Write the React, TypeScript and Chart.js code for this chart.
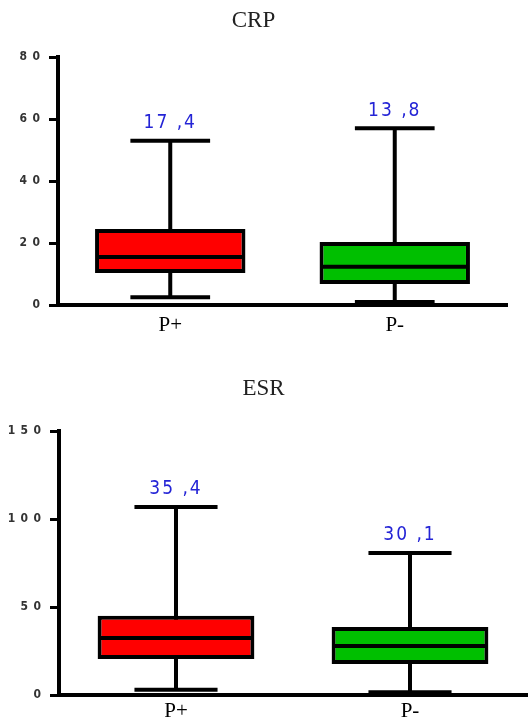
import React, { useEffect, useRef } from "react";
import { Chart, registerables } from "chart.js";

Chart.register(...registerables);

// ---------- data ----------
const categories = ["P+", "P-"];
const boxColors = ["#ff0000", "#00bf00"];

const crpMin = [2.5, 1];
const crpQ1 = [10.3, 6.8];
const crpMedian = [15.5, 12.3];
const crpQ3 = [24.5, 20.3];
const crpMax = [53, 57];
const crpMeanLabels = ["17 ,4", "13 ,8"];
const crpTicks = [0, 20, 40, 60, 80];

const esrMin = [3, 1.5];
const esrQ1 = [20.5, 17.6];
const esrMedian = [32.4, 27.8];
const esrQ3 = [45, 38.6];
const esrMax = [106.8, 80.7];
const esrMeanLabels = ["35 ,4", "30 ,1"];
const esrTicks = [0, 50, 100, 150];

const NARROW = "'Liberation Sans Narrow', 'DejaVu Sans Condensed', 'Liberation Sans', sans-serif";
const SERIF = "'Liberation Serif', 'DejaVu Serif', serif";

type BoxProps = {
  title: string;
  mins: number[];
  q1: number[];
  medians: number[];
  q3: number[];
  maxs: number[];
  meanLabels: string[];
  ticks: number[];
  height: number;
  axisWidth: number;
  xAxisHeight: number;
  padRight: number;
  titlePadTop: number;
  titlePadBottom: number;
  xLabelPad: number;
};

function makeBoxPlugin(p: BoxProps) {
  return {
    id: "boxExtras",
    beforeDatasetsDraw(chart: any) {
      const ctx = chart.ctx;
      const xs = chart.scales.x;
      const ys = chart.scales.y;
      const meta = chart.getDatasetMeta(0);
      ctx.save();
      ctx.strokeStyle = "#000";
      ctx.lineCap = "butt";
      meta.data.forEach((bar: any, i: number) => {
        const cx = xs.getPixelForValue(i);
        const capW = bar.width * 0.53;
        const yMin = ys.getPixelForValue(p.mins[i]);
        const yMax = ys.getPixelForValue(p.maxs[i]);
        ctx.lineWidth = 4;
        ctx.beginPath();
        ctx.moveTo(cx, yMax);
        ctx.lineTo(cx, yMin);
        ctx.stroke();
        ctx.beginPath();
        ctx.moveTo(cx - capW / 2, yMax);
        ctx.lineTo(cx + capW / 2, yMax);
        ctx.moveTo(cx - capW / 2, yMin);
        ctx.lineTo(cx + capW / 2, yMin);
        ctx.stroke();
      });
      ctx.restore();
    },
    afterDatasetsDraw(chart: any) {
      const ctx = chart.ctx;
      const xs = chart.scales.x;
      const ys = chart.scales.y;
      const meta = chart.getDatasetMeta(0);
      ctx.save();
      meta.data.forEach((bar: any, i: number) => {
        const cx = xs.getPixelForValue(i);
        const half = bar.width / 2;
        const yMed = ys.getPixelForValue(p.medians[i]);
        ctx.strokeStyle = "#000";
        ctx.lineWidth = 4;
        ctx.beginPath();
        ctx.moveTo(cx - half + 2, yMed);
        ctx.lineTo(cx + half - 2, yMed);
        ctx.stroke();
        const yMax = ys.getPixelForValue(p.maxs[i]);
        ctx.fillStyle = "#2424d6";
        ctx.font = `19px ${NARROW}`;
        try {
          (ctx as any).letterSpacing = "2px";
        } catch (e) {}
        ctx.textAlign = "center";
        ctx.textBaseline = "bottom";
        ctx.fillText(p.meanLabels[i], cx, yMax - 8);
      });
      ctx.restore();
    },
  };
}

function BoxChart(p: BoxProps) {
  const ref = useRef<HTMLCanvasElement>(null);
  useEffect(() => {
    const canvas = ref.current;
    if (!canvas) return;
    const chart = new Chart(canvas, {
      type: "bar",
      data: {
        labels: categories,
        datasets: [
          {
            data: categories.map((_, i) => [p.q1[i], p.q3[i]]) as any,
            backgroundColor: boxColors,
            borderColor: "#000",
            borderWidth: 4,
            borderSkipped: false,
            barPercentage: 0.67,
            categoryPercentage: 1,
          },
        ],
      },
      options: {
        responsive: false,
        animation: false,
        devicePixelRatio: 1,
        layout: { padding: { left: 0, right: p.padRight, top: 0, bottom: 0 } },
        plugins: {
          legend: { display: false },
          tooltip: { enabled: false },
          title: {
            display: true,
            text: p.title,
            color: "#222",
            font: { family: SERIF, size: 23, weight: "normal" },
            padding: { top: p.titlePadTop, bottom: p.titlePadBottom },
          },
        },
        scales: {
          x: {
            type: "category",
            offset: true,
            grid: { display: false, drawTicks: false },
            border: { display: true, color: "#000", width: 4 },
            afterFit: (s: any) => {
              s.height = p.xAxisHeight;
            },
            ticks: {
              color: "#000",
              padding: p.xLabelPad,
              font: { family: SERIF, size: 21, lineHeight: 1 },
            },
          },
          y: {
            min: 0,
            max: p.ticks[p.ticks.length - 1],
            afterBuildTicks: (s: any) => {
              s.ticks = p.ticks.map((v) => ({ value: v }));
            },
            afterFit: (s: any) => {
              s.width = p.axisWidth;
            },
            grid: {
              display: true,
              drawOnChartArea: false,
              drawTicks: true,
              tickLength: 9,
              lineWidth: 3,
              color: "#000",
            },
            border: { display: true, color: "#000", width: 4 },
            ticks: {
              color: "#333",
              padding: 9,
              font: { family: NARROW, size: 12, weight: "bold" },
              callback: (v: any) => String(v).split("").join("\u2002"),
            },
          },
        },
      },
      plugins: [makeBoxPlugin(p)],
    } as any);
    return () => chart.destroy();
  }, []);
  return (
    <canvas
      ref={ref}
      width={531}
      height={p.height}
      style={{ display: "block", width: 531, height: p.height }}
    />
  );
}

export default function App() {
  return (
    <div
      style={{
        position: "fixed",
        left: 0,
        top: 0,
        width: 531,
        height: 722,
        background: "#fff",
        overflow: "hidden",
      }}
    >
      <div style={{ position: "absolute", left: 0, top: 0 }}>
        <BoxChart
          title="CRP"
          mins={crpMin}
          q1={crpQ1}
          medians={crpMedian}
          q3={crpQ3}
          maxs={crpMax}
          meanLabels={crpMeanLabels}
          ticks={crpTicks}
          height={340}
          axisWidth={58}
          xAxisHeight={35}
          padRight={24}
          titlePadTop={7}
          titlePadBottom={22.4}
          xLabelPad={10}
        />
      </div>
      <div style={{ position: "absolute", left: 0, top: 355 }}>
        <BoxChart
          title="ESR"
          mins={esrMin}
          q1={esrQ1}
          medians={esrMedian}
          q3={esrQ3}
          maxs={esrMax}
          meanLabels={esrMeanLabels}
          ticks={esrTicks}
          height={367}
          axisWidth={59}
          xAxisHeight={27}
          padRight={4}
          titlePadTop={20}
          titlePadBottom={28.4}
          xLabelPad={6}
        />
      </div>
    </div>
  );
}
